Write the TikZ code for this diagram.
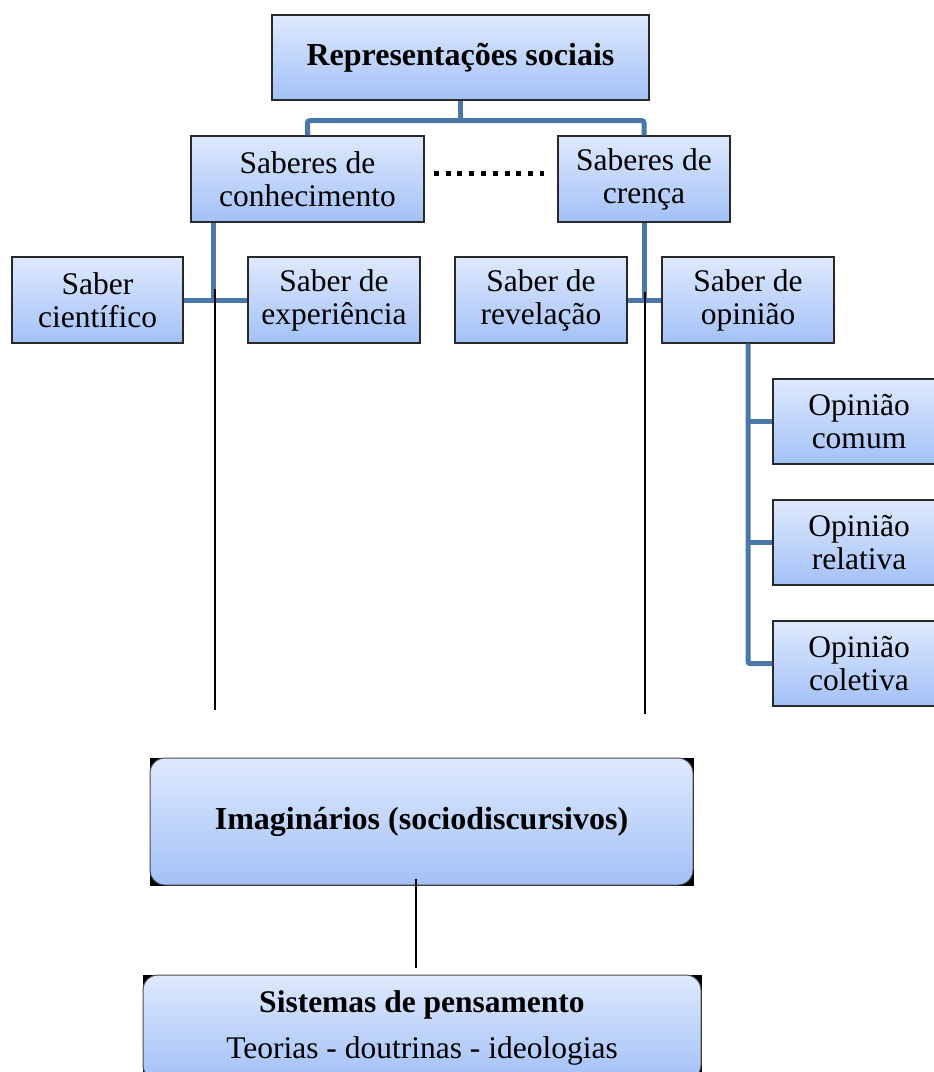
\documentclass[tikz,border=0pt]{standalone}
\usepackage{fontspec}
\setmainfont{Liberation Serif}
\usetikzlibrary{calc,backgrounds}
\definecolor{boxtop}{RGB}{222,233,253}
\definecolor{boxbot}{RGB}{163,193,247}
\definecolor{connblue}{RGB}{74,120,170}
\definecolor{boxline}{RGB}{40,40,40}
\tikzset{
  kbox/.style={draw=boxline, line width=1.4pt, top color=boxtop, bottom color=boxbot,
    align=center, inner sep=0pt, font=\fontsize{31.5pt}{33pt}\selectfont},
  rbox/.style={draw=gray!60!black, line width=1pt, rounded corners=15pt, top color=boxtop, bottom color=boxbot,
    align=center, inner sep=0pt, font=\fontsize{31.5pt}{46pt}\selectfont},
  conn/.style={draw=connblue, line width=5pt, rounded corners=2pt},
  blackline/.style={draw=black, line width=1.5pt},
  dotline/.style={draw=black, line width=5pt, dash pattern=on 5pt off 6.8pt}
}
\begin{document}
\begin{tikzpicture}[x=1pt,y=-1pt]
\useasboundingbox (0,0) rectangle (934,1072);
% boxes
\node[kbox, minimum width=377pt, minimum height=85pt, font=\fontsize{32pt}{34pt}\selectfont\bfseries] (rep) at (460.5,57.5) {Representações sociais};
\node[kbox, minimum width=233pt, minimum height=86pt] (sc) at (307.5,179) {Saberes de\\conhecimento};
\node[kbox, minimum width=172pt, minimum height=86pt] (scr) at (644,179) {Saberes de\\crença};
\node[kbox, minimum width=171pt, minimum height=86pt] (sci) at (97.5,300) {Saber\\científico};
\node[kbox, minimum width=172pt, minimum height=86pt] (sexp) at (334,300) {Saber de\\experiência};
\node[kbox, minimum width=172pt, minimum height=86pt] (srev) at (541,300) {Saber de\\revelação};
\node[kbox, minimum width=172pt, minimum height=86pt] (sop) at (748,300) {Saber de\\opinião};
\node[kbox, minimum width=172pt, minimum height=85pt] (oc) at (859,421.5) {Opinião\\comum};
\node[kbox, minimum width=172pt, minimum height=85pt] (orl) at (859,542.5) {Opinião\\relativa};
\node[kbox, minimum width=172pt, minimum height=85pt] (ocol) at (859,663.5) {Opinião\\coletiva};
\node[rbox, minimum width=543pt, minimum height=127pt, font=\fontsize{32pt}{34pt}\selectfont\bfseries] (imag) at (421.5,821.5) {Imaginários (sociodiscursivos)};
\node[rbox, minimum width=558pt, minimum height=105pt] (sist) at (422,1027.5) {\textbf{Sistemas de pensamento}\\Teorias - doutrinas - ideologias};
\begin{scope}[on background layer]
\fill[black] (imag.south west) rectangle (imag.north east);
\fill[black] (sist.south west) rectangle (sist.north east);
\end{scope}
% top connectors
\draw[conn] (rep.south) -- ++(0,20) coordinate (j1);
\draw[conn] (sc.north) |- (j1) -| (scr.north);
% dotted
\draw[dotline] ([xshift=9pt,yshift=6pt]sc.east) -- ([xshift=-13pt,yshift=6pt]scr.west);
% left branch
\coordinate (lb) at ($(sc.south west)+(23,0)$);
\draw[conn] (lb) -- (lb |- sci.east);
\draw[conn] (sci.east) -- (sexp.west);
% right branch
\draw[conn] (scr.south) -- (scr.south |- srev.east);
\draw[conn] (srev.east) -- (sop.west);
% opinion branch
\draw[conn] (sop.south) |- (ocol.west);
\draw[conn] (sop.south |- oc.west) -- (oc.west);
\draw[conn] (sop.south |- orl.west) -- (orl.west);
% black lines
\coordinate (k1a) at (215,289);
\coordinate (k1b) at (215,710);
\coordinate (k2a) at (645,292);
\coordinate (k2b) at (645,714);
\draw[blackline] (k1a) -- (k1b);
\draw[blackline] (k2a) -- (k2b);
\draw[blackline] ([xshift=-5.5pt,yshift=7pt]imag.south) -- ([xshift=-6pt,yshift=7pt]sist.north);
\end{tikzpicture}
\end{document}
